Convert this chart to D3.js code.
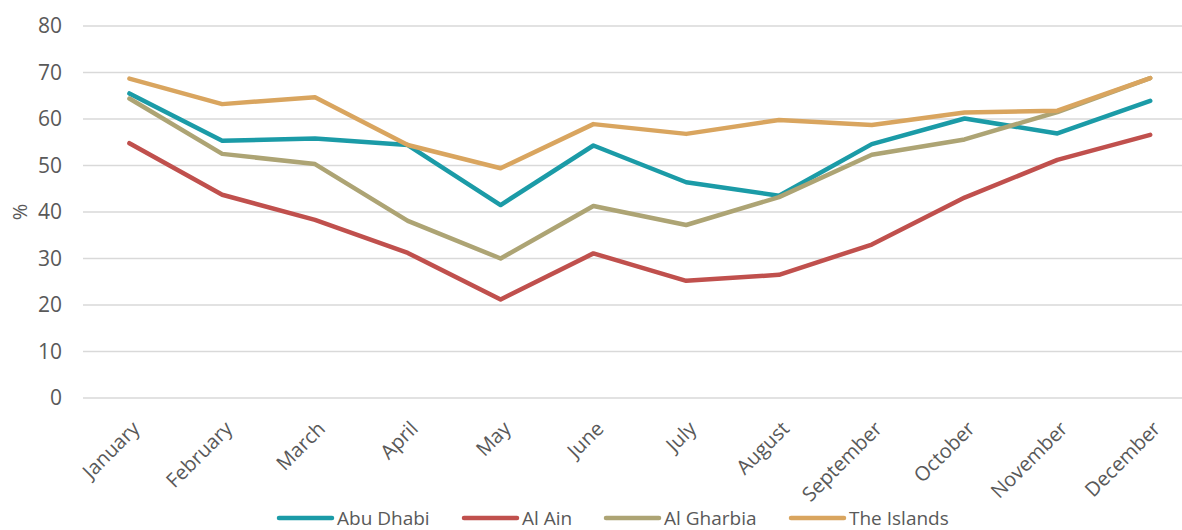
<!DOCTYPE html>
<html>
<head>
<meta charset="utf-8">
<script src="https://cdn.jsdelivr.net/npm/d3@7"></script>
<style>
  body { margin: 0; background: #fff; }
  svg { display: block; font-family: "Open Sans", sans-serif; }
</style>
</head>
<body>
<div id="chart"></div>
<script>
var months = ["January", "February", "March", "April", "May", "June", "July", "August", "September", "October", "November", "December"];
var yTicks = [0, 10, 20, 30, 40, 50, 60, 70, 80];
var seriesNames = ["Abu Dhabi", "Al Ain", "Al Gharbia", "The Islands"];
var abuDhabi  = [65.5, 55.3, 55.8, 54.4, 41.5, 54.3, 46.4, 43.5, 54.6, 60.1, 56.9, 63.9];
var alAin     = [54.8, 43.7, 38.3, 31.2, 21.2, 31.1, 25.2, 26.5, 33.0, 43.1, 51.2, 56.6];
var alGharbia = [64.4, 52.5, 50.3, 38.1, 30.0, 41.3, 37.2, 43.2, 52.3, 55.6, 61.5, 68.8];
var islands   = [68.7, 63.2, 64.7, 54.4, 49.4, 58.9, 56.8, 59.8, 58.7, 61.4, 61.8, 68.8];

function drawChart(placement, w, h) {
    var margins = {top: 26, left: 83, bottom: 132}
    var colors = ["#1b9ba7", "#c0504d", "#ada474", "#d9a55f"]
    var allValues = [abuDhabi, alAin, alGharbia, islands]

    var series = seriesNames.map(function(name, i) {
        return {name: name, color: colors[i], values: allValues[i].map(function(v, j) {
            return {month: months[j], value: v};
        })};
    });

    var svg = d3.select(placement).append("svg")
        .attr("width", w).attr("height", h)

    var step = 92.8
    var x = d3.scalePoint()
        .domain(months)
        .range([margins.left + step / 2, margins.left + step * 11.5])

    var y = d3.scaleLinear()
        .domain([0, 80])
        .range([h - margins.bottom, margins.top])

    // gridlines
    svg.append("g").attr("class", "grid")
        .selectAll("line")
        .data(yTicks)
        .enter().append("line")
        .attr("x1", margins.left).attr("x2", w)
        .attr("y1", d => y(d)).attr("y2", d => y(d))
        .style("stroke", "#d9d9d9")
        .style("stroke-width", "1.5px")

    // y axis labels
    svg.append("g").attr("class", "y-axis")
        .attr("transform", "translate(" + (margins.left - 21) + ",0)")
        .call(d3.axisLeft(y).tickValues(yTicks).tickSize(0).tickPadding(0))
        .call(g => g.select(".domain").remove())
        .selectAll("text")
        .attr("font-size", "21px")
        .attr("font-family", "Open Sans, sans-serif")
        .style("fill", "#595959")

    svg.append("text")
        .attr("transform", "translate(20," + y(40) + ") rotate(-90)")
        .attr("text-anchor", "middle")
        .attr("dy", "0.35em")
        .attr("font-size", "20px")
        .style("fill", "#595959")
        .text("%")

    // x axis labels
    svg.append("g").attr("class", "x-axis")
        .attr("transform", "translate(0," + y(0) + ")")
        .call(d3.axisBottom(x).tickSize(0).tickPadding(0))
        .call(g => g.select(".domain").remove())
        .selectAll("text")
        .attr("font-size", "20px")
        .attr("font-family", "Open Sans, sans-serif")
        .style("fill", "#595959")
        .attr("text-anchor", "end")
        .attr("dy", "0.35em")
        .attr("transform", "translate(6,27) rotate(-45)")

    var line = d3.line()
        .x(d => x(d.month))
        .y(d => y(d.value))

    svg.selectAll(".line")
        .data(series)
        .enter().append("path")
        .attr("class", "line")
        .attr("d", d => line(d.values))
        .style("fill", "none")
        .style("stroke", d => d.color)
        .style("stroke-width", "4.5px")
        .style("stroke-linejoin", "round")
        .style("stroke-linecap", "round")

    // legend
    var legendX = [278, 463, 605, 790]
    var legend = svg.selectAll(".legend")
        .data(series)
        .enter().append("g")
        .attr("class", "legend")
        .attr("transform", (d, i) => "translate(" + legendX[i] + "," + (h - 12) + ")")

    legend.append("line")
        .attr("x1", 1).attr("x2", 54)
        .style("stroke", d => d.color)
        .style("stroke-width", "4.5px")
        .style("stroke-linecap", "round")

    legend.append("text")
        .attr("x", 59)
        .attr("dy", "0.35em")
        .attr("font-size", "19px")
        .style("fill", "#595959")
        .text(d => d.name)
}

drawChart("#chart", 1182, 530)
</script>
</body>
</html>
